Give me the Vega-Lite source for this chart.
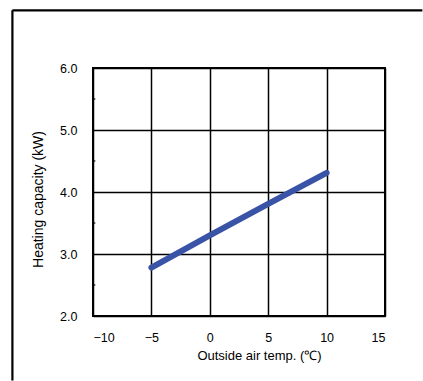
{
  "$schema": "https://vega.github.io/schema/vega-lite/v6.json",
  "width": 292,
  "height": 248,
  "autosize": "none",
  "padding": {"left": 93, "top": 68, "right": 38, "bottom": 65},
  "background": "white",
  "config": {
    "view": {"stroke": "black", "strokeWidth": 2},
    "font": "Liberation Sans"
  },
  "datasets": {
    "curve": [
      {"temp": -5, "capacity": 2.78},
      {"temp": 0, "capacity": 3.3},
      {"temp": 5, "capacity": 3.81},
      {"temp": 10, "capacity": 4.31}
    ],
    "minor": [
      {"capacity": 2.5},
      {"capacity": 3.5},
      {"capacity": 4.5},
      {"capacity": 5.5}
    ]
  },
  "layer": [
    {
      "data": {"name": "curve"},
      "mark": {"type": "line", "color": "#3953a6", "strokeWidth": 6, "strokeCap": "round"},
      "encoding": {
        "x": {
          "field": "temp", "type": "quantitative",
          "scale": {"domain": [-10, 15], "nice": false, "zero": false},
          "axis": {
            "values": [-10, -5, 0, 5, 10, 15],
            "grid": true, "gridColor": "black", "gridWidth": 1.5, "gridOpacity": 1,
            "ticks": false, "domain": false,
            "labelFontSize": 12.5, "labelColor": "black", "labelPadding": 15,
            "title": "Outside air temp. (℃)",
            "titleFontSize": 13, "titleFontWeight": "normal", "titleColor": "black",
            "titleX": 166, "titlePadding": 6
          }
        },
        "y": {
          "field": "capacity", "type": "quantitative",
          "scale": {"domain": [2, 6], "nice": false, "zero": false},
          "axis": {
            "values": [2, 3, 4, 5, 6], "format": ".1f",
            "grid": true, "gridColor": "black", "gridWidth": 1.5, "gridOpacity": 1,
            "ticks": false, "domain": false,
            "labelFontSize": 12.5, "labelColor": "black", "labelPadding": 16,
            "title": "Heating capacity (kW)",
            "titleFontSize": 14, "titleFontWeight": "normal", "titleColor": "black",
            "titlePadding": 14, "titleY": 131
          }
        }
      }
    },
    {
      "data": {"name": "minor"},
      "mark": {"type": "rule", "color": "black", "strokeWidth": 1.2},
      "encoding": {
        "x": {"datum": -10, "type": "quantitative"},
        "x2": {"datum": -9.8},
        "y": {"field": "capacity", "type": "quantitative"}
      }
    },
    {
      "data": {"values": [{}]},
      "mark": {"type": "rule", "color": "black", "strokeWidth": 2.2, "clip": false},
      "encoding": {
        "x": {"datum": -16.9, "type": "quantitative"},
        "x2": {"datum": 18.2},
        "y": {"datum": 6.93, "type": "quantitative"}
      }
    },
    {
      "data": {"values": [{}]},
      "mark": {"type": "rule", "color": "black", "strokeWidth": 2.2, "clip": false},
      "encoding": {
        "x": {"datum": -16.9, "type": "quantitative"},
        "y": {"datum": 6.93, "type": "quantitative"},
        "y2": {"datum": 0.96}
      }
    }
  ]
}
